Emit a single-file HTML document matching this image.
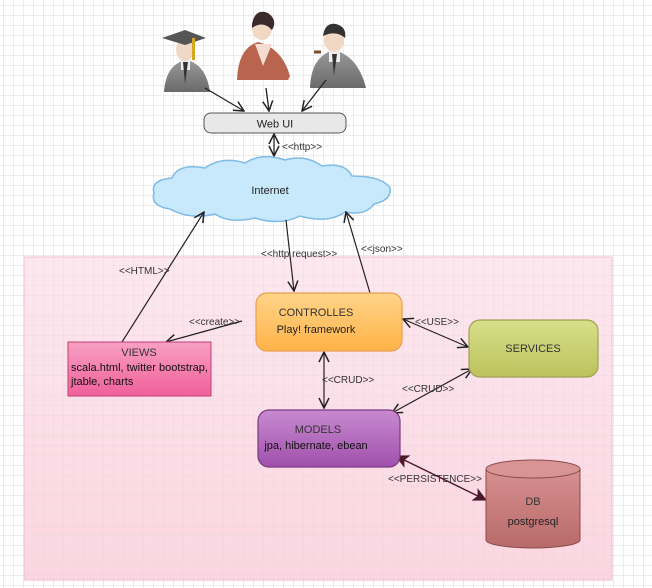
<!DOCTYPE html>
<html><head><meta charset="utf-8"><style>
html,body{margin:0;padding:0;background:#fff;}
svg{display:block;font-family:"Liberation Sans",sans-serif;}
</style></head><body>
<svg width="652" height="588" viewBox="0 0 652 588" xmlns="http://www.w3.org/2000/svg">
<defs>
<pattern id="g" width="10" height="10" patternUnits="userSpaceOnUse" x="4" y="6">
<path d="M10 0V10H0" fill="none" stroke="#dadada" stroke-width="1"/>
</pattern>
<linearGradient id="pk" x1="0" y1="0" x2="0" y2="1"><stop offset="0" stop-color="#fde6ee"/><stop offset="1" stop-color="#fbd2de"/></linearGradient>
<linearGradient id="or" x1="0" y1="0" x2="0" y2="1"><stop offset="0" stop-color="#ffd48a"/><stop offset="1" stop-color="#ffb347"/></linearGradient>
<linearGradient id="vw" x1="0" y1="0" x2="0" y2="1"><stop offset="0" stop-color="#f8a0c4"/><stop offset="1" stop-color="#f0609a"/></linearGradient>
<linearGradient id="sv" x1="0" y1="0" x2="0" y2="1"><stop offset="0" stop-color="#d8e08a"/><stop offset="1" stop-color="#bcc25c"/></linearGradient>
<linearGradient id="md" x1="0" y1="0" x2="0" y2="1"><stop offset="0" stop-color="#c88ad0"/><stop offset="1" stop-color="#a050ac"/></linearGradient>
<linearGradient id="db" x1="0" y1="0" x2="0" y2="1"><stop offset="0" stop-color="#d89090"/><stop offset="1" stop-color="#b86a6a"/></linearGradient>
<linearGradient id="su" x1="0" y1="0" x2="0" y2="1"><stop offset="0" stop-color="#9a9a9a"/><stop offset="1" stop-color="#6a6a6a"/></linearGradient>
<marker id="a" viewBox="0 0 12 12" refX="11" refY="6" markerWidth="12" markerHeight="12" markerUnits="userSpaceOnUse" orient="auto-start-reverse">
<path d="M1 1L11 6L1 11" fill="none" stroke="#222" stroke-width="1.5"/></marker>
<marker id="f" viewBox="0 0 12 12" refX="11" refY="6" markerWidth="14" markerHeight="14" markerUnits="userSpaceOnUse" orient="auto-start-reverse">
<path d="M0 0L12 6L0 12L3 6Z" fill="#4a1a2a"/></marker>
</defs>
<rect width="652" height="588" fill="#fff"/>
<rect width="652" height="588" fill="url(#g)"/>
<rect x="24" y="257" width="588" height="323" fill="url(#pk)" stroke="#f0b8c8" stroke-width="1" opacity="0.9"/>
<rect x="24" y="257" width="588" height="323" fill="url(#g)" opacity="0.5"/>

<!-- people -->
<g>
<path d="M164 92 Q166 64 186 60 Q206 64 210 92 Z" fill="url(#su)"/>
<rect x="181" y="58" width="9" height="12" fill="#eee"/>
<path d="M183 62 L185 84 L188 62Z" fill="#333"/>
<ellipse cx="185" cy="50" rx="9" ry="11" fill="#f0d8c4"/>
<path d="M162 38 L185 30 L206 38 L185 45Z" fill="#555"/>
<rect x="192" y="38" width="3" height="22" fill="#d4a820"/>
</g>
<g>
<path d="M237 80 Q238 48 258 42 Q282 48 290 76 L288 80 Z" fill="#b8644e"/>
<path d="M255 44 L263 66 L272 44Z" fill="#f4ddd0"/>
<ellipse cx="262" cy="28" rx="10" ry="12" fill="#f0d8c4"/>
<path d="M252 24 Q255 8 268 13 Q278 20 272 30 Q263 20 252 28Z" fill="#3a2a2a"/>
</g>
<g>
<path d="M310 88 Q311 56 334 50 Q358 56 366 88 Z" fill="url(#su)"/>
<rect x="329" y="50" width="11" height="12" fill="#eee"/>
<path d="M332 54 L334 76 L337 54Z" fill="#333"/>
<ellipse cx="334" cy="40" rx="10" ry="12" fill="#f0d8c4"/>
<path d="M323 36 Q325 22 336 24 Q347 27 345 38 Q336 30 323 36Z" fill="#333"/>
<path d="M314 52 l7 0" stroke="#7a4a2a" stroke-width="3"/>
</g>

<!-- user arrows -->
<g stroke="#222" stroke-width="1.3" fill="none">
<line x1="205" y1="88" x2="244" y2="111" marker-end="url(#a)"/>
<line x1="266" y1="88" x2="269" y2="111" marker-end="url(#a)"/>
<line x1="326" y1="80" x2="302" y2="111" marker-end="url(#a)"/>
<line x1="274" y1="134" x2="274" y2="156" marker-start="url(#a)" marker-end="url(#a)"/>
</g>

<!-- Web UI -->
<rect x="204" y="113" width="142" height="20" rx="7" fill="#e8e8e8" stroke="#555" stroke-width="1"/>
<text x="275" y="127.5" font-size="11" text-anchor="middle" fill="#222">Web UI</text>

<!-- Cloud -->
<path d="M170 209 Q150 206 154 193 Q150 180 172 178 Q178 163 205 168 Q222 156 245 163 Q262 152 285 160 Q305 154 322 166 Q345 162 352 176 Q382 176 390 188 Q392 200 374 204 Q366 216 345 212 Q328 224 300 216 Q280 226 255 218 Q230 224 215 214 Q190 220 170 209Z" fill="#c8e8fb" stroke="#7fbbe6" stroke-width="1.5"/>
<text x="270" y="194" font-size="11" text-anchor="middle" fill="#222">Internet</text>

<!-- connectors -->
<g stroke="#222" stroke-width="1.2" fill="none">
<line x1="122" y1="342" x2="204" y2="212" marker-end="url(#a)"/>
<line x1="286" y1="220" x2="294" y2="291" marker-end="url(#a)"/>
<line x1="370" y1="293" x2="346" y2="212" marker-end="url(#a)"/>
<line x1="242" y1="321" x2="166" y2="342" marker-end="url(#a)"/>
<line x1="403" y1="319" x2="468" y2="347" marker-start="url(#a)" marker-end="url(#a)"/>
<line x1="324" y1="352" x2="324" y2="408" marker-start="url(#a)" marker-end="url(#a)"/>
<line x1="392" y1="413" x2="472" y2="369" marker-start="url(#a)" marker-end="url(#a)"/>
</g>
<line x1="396" y1="456" x2="486" y2="500" stroke="#4a1a2a" stroke-width="1.5" marker-start="url(#f)" marker-end="url(#f)"/>

<!-- Controllers -->
<rect x="256" y="293" width="146" height="58" rx="11" fill="url(#or)" stroke="#e8a050" stroke-width="1.2"/>
<text x="316" y="316" font-size="11" text-anchor="middle" fill="#333">CONTROLLES</text>
<text x="316" y="333" font-size="11" text-anchor="middle" fill="#222">Play! framework</text>

<!-- Views -->
<rect x="68" y="342" width="143" height="54" fill="url(#vw)" stroke="#c04070" stroke-width="1"/>
<text x="139" y="356" font-size="11" text-anchor="middle" fill="#333">VIEWS</text>
<text x="71" y="371" font-size="11" fill="#111">scala.html, twitter bootstrap,</text>
<text x="71" y="385" font-size="11" fill="#111">jtable, charts</text>

<!-- Services -->
<rect x="469" y="320" width="129" height="57" rx="11" fill="url(#sv)" stroke="#a0a050" stroke-width="1.2"/>
<text x="533" y="352" font-size="11" text-anchor="middle" fill="#333">SERVICES</text>

<!-- Models -->
<rect x="258" y="410" width="142" height="57" rx="11" fill="url(#md)" stroke="#7a3a80" stroke-width="1.2"/>
<text x="318" y="433" font-size="11" text-anchor="middle" fill="#333">MODELS</text>
<text x="316" y="449" font-size="11" text-anchor="middle" fill="#111">jpa, hibernate, ebean</text>

<!-- DB -->
<path d="M486 469 L486 540 A47 8 0 0 0 580 540 L580 469" fill="url(#db)" stroke="#8a4a4a" stroke-width="1"/>
<ellipse cx="533" cy="469" rx="47" ry="9" fill="#d89494" stroke="#8a4a4a" stroke-width="1"/>
<text x="533" y="505" font-size="11" text-anchor="middle" fill="#333">DB</text>
<text x="533" y="525" font-size="11" text-anchor="middle" fill="#222">postgresql</text>

<!-- labels -->
<g font-size="10" fill="#333">
<text x="282" y="150">&lt;&lt;http&gt;&gt;</text>
<text x="119" y="274">&lt;&lt;HTML&gt;&gt;</text>
<text x="261" y="257">&lt;&lt;http request&gt;&gt;</text>
<text x="361" y="252">&lt;&lt;json&gt;&gt;</text>
<text x="189" y="325">&lt;&lt;create&gt;&gt;</text>
<text x="415" y="325">&lt;&lt;USE&gt;&gt;</text>
<text x="322" y="383">&lt;&lt;CRUD&gt;&gt;</text>
<text x="402" y="392">&lt;&lt;CRUD&gt;&gt;</text>
<text x="388" y="482">&lt;&lt;PERSISTENCE&gt;&gt;</text>
</g>
</svg>
</body></html>
